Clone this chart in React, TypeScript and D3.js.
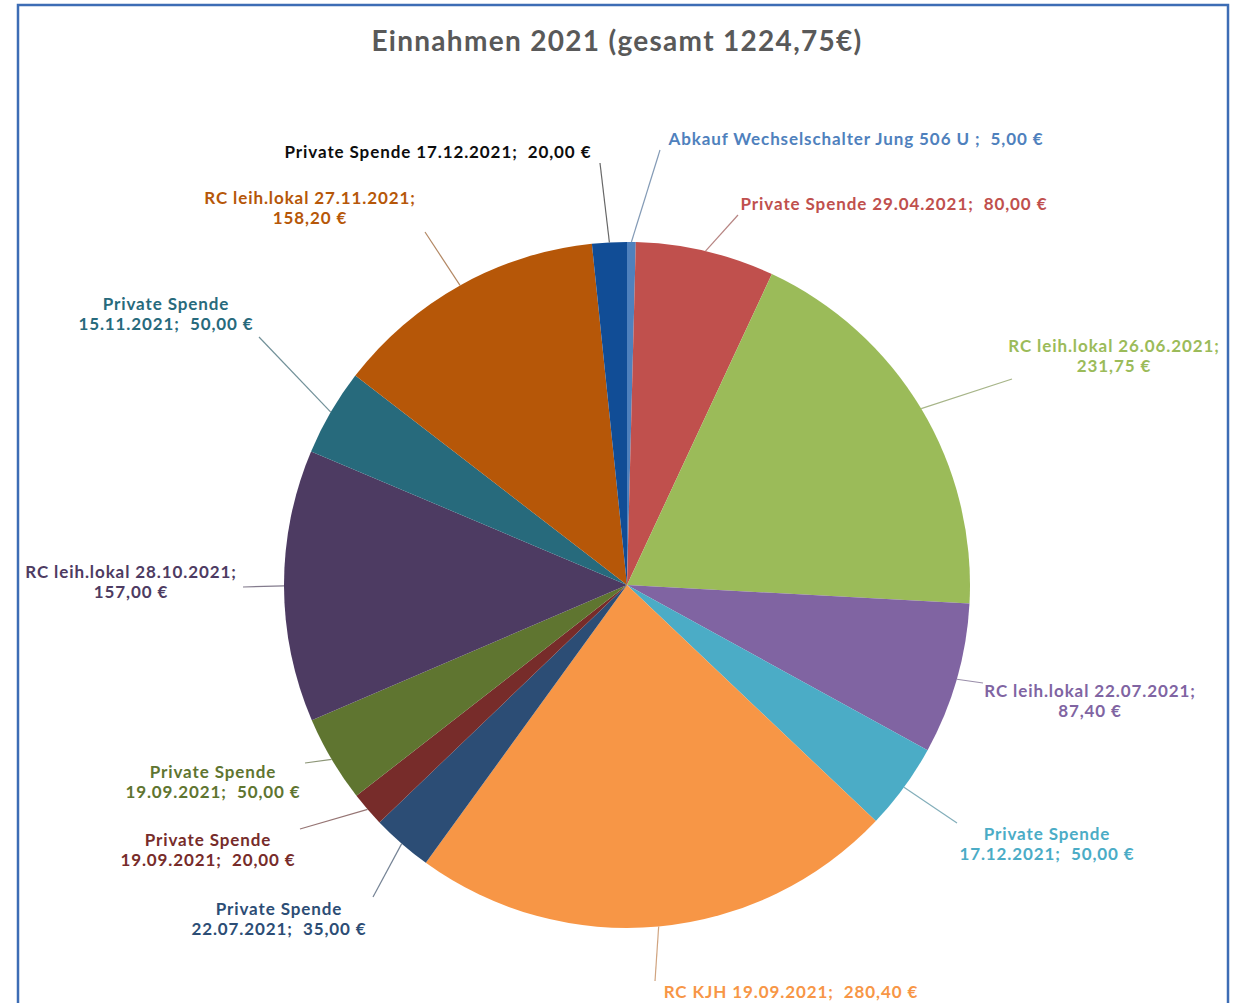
import React from "react";
import * as d3 from "d3";

const categories = [
  "Abkauf Wechselschalter Jung 506 U ",
  "Private Spende 29.04.2021",
  "RC leih.lokal 26.06.2021",
  "RC leih.lokal 22.07.2021",
  "Private Spende 17.12.2021",
  "RC KJH 19.09.2021",
  "Private Spende 22.07.2021",
  "Private Spende 19.09.2021",
  "Private Spende 19.09.2021",
  "RC leih.lokal 28.10.2021",
  "Private Spende 15.11.2021",
  "RC leih.lokal 27.11.2021",
  "Private Spende 17.12.2021",
];
const values = [5, 80, 231.75, 87.4, 50, 280.4, 35, 20, 50, 157, 50, 158.2, 20];
const sliceColors = [
  "#4f81bd", "#c0504d", "#9bbb59", "#8064a2", "#4bacc6", "#f79646",
  "#2c4d75", "#772c2a", "#5f7530", "#4d3b62", "#276a7c", "#b65708", "#114d96",
];
const labelColors = [
  "#4f81bd", "#c0504d", "#9bbb59", "#8064a2", "#4bacc6", "#f79646",
  "#2c4d75", "#772c2a", "#5f7530", "#4d3b62", "#276a7c", "#b65708", "#0d0d0d",
];
const title = "Einnahmen 2021 (gesamt 1224,75€)";

// layout: label center, line-break mode (0 single, 1 before value, 2 after first two words), leader end
const labelLayout = [
  { x: 856, y: 139, mode: 0, ex: 660, ey: 150 },
  { x: 894, y: 204, mode: 0, ex: 738, ey: 215 },
  { x: 1114, y: 346, mode: 1, ex: 1012, ey: 379 },
  { x: 1090, y: 691, mode: 1, ex: 983, ey: 683 },
  { x: 1047, y: 834, mode: 2, ex: 957, ey: 823 },
  { x: 791, y: 992, mode: 0, ex: 655, ey: 981 },
  { x: 279, y: 909, mode: 2, ex: 373, ey: 897 },
  { x: 208, y: 840, mode: 2, ex: 300, ey: 829 },
  { x: 213, y: 772, mode: 2, ex: 305, ey: 763 },
  { x: 131, y: 572, mode: 1, ex: 243, ey: 587 },
  { x: 166, y: 304, mode: 2, ex: 259, ey: 337 },
  { x: 310, y: 198, mode: 1, ex: 425, ey: 232 },
  { x: 438, y: 152, mode: 0, ex: 600, ey: 163 },
];

const W = 1238;
const H = 1003;
const cx = 627;
const cy = 585;
const R = 343;
const fontFamily = "Lato, 'Open Sans', sans-serif";

const fmt = (v: number) => v.toFixed(2).replace(".", ",") + " €";

export default function App() {
  const pie = d3.pie<number>().sort(null).value((d) => d)(values);
  const arc = d3.arc<d3.PieArcDatum<number>>().innerRadius(0).outerRadius(R);

  return (
    <svg
      width={W}
      height={H}
      style={{ position: "absolute", left: 0, top: 0, background: "#fff" }}
    >
      <rect x={18} y={5} width={1210} height={1020} fill="#fff" stroke="#3d6db5" strokeWidth={2.5} />
      <text
        x={617}
        y={51}
        textAnchor="middle"
        fontFamily={fontFamily}
        fontWeight="bold"
        fontSize={28}
        letterSpacing={1.3}
        fill="#595959"
      >
        {title}
      </text>
      <g transform={`translate(${cx},${cy})`}>
        {pie.map((p, i) => (
          <path key={i} d={arc(p) || ""} fill={sliceColors[i]} stroke="none" />
        ))}
      </g>
      {pie.map((p, i) => {
        const a = (p.startAngle + p.endAngle) / 2;
        const sx = cx + R * Math.sin(a);
        const sy = cy - R * Math.cos(a);
        const L = labelLayout[i];
        const lc = d3.interpolateRgb(labelColors[i], "#b0b0b0")(0.55);
        return (
          <line key={"l" + i} x1={sx} y1={sy} x2={L.ex} y2={L.ey} stroke={lc} strokeWidth={1.2} />
        );
      })}
      {values.map((v, i) => {
        const L = labelLayout[i];
        const name = categories[i];
        let lines: string[];
        if (L.mode === 0) lines = [`${name};  ${fmt(v)}`];
        else if (L.mode === 1) lines = [`${name};`, fmt(v)];
        else {
          const parts = name.split(" ");
          lines = [parts.slice(0, 2).join(" "), `${parts.slice(2).join(" ")};  ${fmt(v)}`];
        }
        return (
          <g key={"t" + i}>
            {lines.map((ln, j) => (
              <text
                key={j}
                x={L.x}
                y={L.y + j * 20.5}
                dy="0.35em"
                textAnchor="middle"
                fontFamily={fontFamily}
                fontWeight="bold"
                fontSize={17}
                letterSpacing={0.9}
                fill={labelColors[i]}
                style={{ whiteSpace: "pre" }}
              >
                {ln}
              </text>
            ))}
          </g>
        );
      })}
    </svg>
  );
}
